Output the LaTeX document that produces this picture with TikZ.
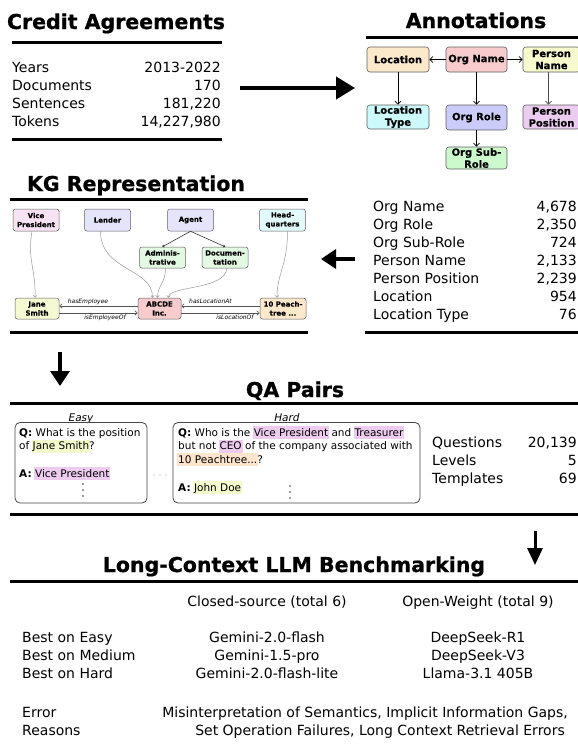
\documentclass[tikz,border=0pt]{standalone}
\usepackage{fontspec}
\setmainfont{DejaVu Sans}
\newfontfamily\headfont{DejaVu Sans Bold}[FakeBold=0.8]
\newfontfamily\boxfont{DejaVu Sans Bold}[FakeBold=0.4]
\usetikzlibrary{arrows.meta}
\definecolor{cLoc}{RGB}{252,233,204}
\definecolor{cOrg}{RGB}{248,204,204}
\definecolor{cPer}{RGB}{246,250,204}
\definecolor{cLocT}{RGB}{204,250,252}
\definecolor{cRole}{RGB}{204,204,250}
\definecolor{cPos}{RGB}{236,204,240}
\definecolor{cSub}{RGB}{204,250,204}
\definecolor{kVP}{RGB}{250,226,245}
\definecolor{kLav}{RGB}{228,228,250}
\definecolor{kCy}{RGB}{226,250,252}
\definecolor{kGr}{RGB}{226,250,226}
\definecolor{kYe}{RGB}{246,250,210}
\definecolor{hlPur}{RGB}{238,204,240}
\definecolor{hlYel}{RGB}{245,250,204}
\definecolor{hlPea}{RGB}{252,229,204}
\newsavebox\hlsave
\newcommand\hlt[2]{\sbox\hlsave{#2}\rlap{\kern-1pt\color{#1}\rule[-3pt]{\dimexpr\wd\hlsave+2pt\relax}{13pt}}\usebox\hlsave}
\begin{document}
\begin{tikzpicture}[x=1pt,y=-1pt,
  title/.style={font=\fontsize{20.5}{24}\selectfont\headfont, anchor=base, inner sep=0},
  stat/.style={font=\fontsize{14}{17}\selectfont, inner sep=0},
  statl/.style={stat, anchor=base west},
  statr/.style={stat, anchor=base east},
  statc/.style={stat, anchor=base},
  thickrule/.style={line width=3pt},
  abox/.style={draw=gray!75!black, rounded corners=3pt, line width=0.6pt, align=center,
    font=\fontsize{10}{12}\selectfont\boxfont, inner sep=0},
  kbox/.style={draw=gray!75!black, rounded corners=2.5pt, line width=0.5pt, align=center,
    font=\fontsize{7}{9}\selectfont\boxfont, inner sep=0, minimum width=46pt, minimum height=22pt},
  aarrow/.style={line width=0.7pt, -{Straight Barb[length=3pt,width=6pt]}},
  kcurve/.style={draw=gray!80, line width=0.5pt, -{Straight Barb[length=2pt,width=3.5pt]}},
  kedge/.style={draw=gray!65!black, line width=0.6pt, -{Straight Barb[length=2.5pt,width=4.5pt]}},
  kdot/.style={draw=black!80, line width=0.6pt, -{Circle[length=2.2pt]}},
  elabel/.style={font=\fontsize{6}{7}\selectfont\itshape, inner sep=0, anchor=base},
  qtext/.style={font=\fontsize{10.5}{13.5}\selectfont, anchor=base west, inner sep=0},
  qbox/.style={draw=gray!55!black, rounded corners=5pt, line width=0.8pt}
]
\useasboundingbox (0,0) rectangle (578,744);
\fill[white] (0,0) rectangle (578,744);

% ---------------- Credit Agreements
\node[title] (tCredit) at (116,29) {Credit Agreements};
\draw[thickrule] (12,42) -- (222,42);
\node[statl] (c1l) at (12,72) {Years};       \node[statr] (c1r) at (221,72) {2013-2022};
\node[statl] (c2l) at (12,90) {Documents};   \node[statr] (c2r) at (221,90) {170};
\node[statl] (c3l) at (12,108) {Sentences};  \node[statr] (c3r) at (221,108) {181,220};
\node[statl] (c4l) at (12,126) {Tokens};     \node[statr] (c4r) at (221,126) {14,227,980};
\draw[thickrule] (12,139) -- (222,139);

% arrow right
\coordinate (ra1) at (240,88); \coordinate (ra2) at (355,88);
\draw[line width=4pt, -{Triangle[length=19pt,width=22pt]}] (ra1) -- (ra2);

% ---------------- Annotations
\node[title] (tAnn) at (476,28) {Annotations};
\draw[thickrule] (366,37) -- (578,37);
\node[abox, fill=cLoc, minimum width=62pt, minimum height=25pt] (loc) at (398,59.5) {Location};
\node[abox, fill=cOrg, minimum width=61pt, minimum height=25pt] (orgname) at (476.5,59.5) {Org Name};
\node[abox, fill=cPer, minimum width=57pt, minimum height=25pt] (pername) at (551.5,59.5) {Person\\Name};
\node[abox, fill=cLocT, minimum width=62pt, minimum height=24pt] (loctype) at (398,117) {Location\\Type};
\node[abox, fill=cRole, minimum width=61pt, minimum height=25pt] (orgrole) at (476.5,117.5) {Org Role};
\node[abox, fill=cPos, minimum width=57pt, minimum height=24pt] (perpos) at (551.5,117) {Person\\Position};
\node[abox, fill=cSub, minimum width=61pt, minimum height=22pt] (subrole) at (476.5,158) {Org Sub-\\Role};
\draw[aarrow] (orgname.west) -- (loc.east);
\draw[aarrow] (orgname.east) -- (pername.west);
\draw[aarrow] (loc.south) -- (loctype.north);
\draw[aarrow] (orgname.south) -- (orgrole.north);
\draw[aarrow] (orgrole.south) -- (subrole.north);
\draw[aarrow, draw=gray!60!black] ([xshift=-3pt]pername.south) -- ([xshift=-3pt]perpos.north);

% stats
\node[statl] (a1l) at (373,211) {Org Name};        \node[statr] (a1r) at (577,211) {4,678};
\node[statl] (a2l) at (373,229) {Org Role};        \node[statr] (a2r) at (577,229) {2,350};
\node[statl] (a3l) at (373,247) {Org Sub-Role};    \node[statr] (a3r) at (577,247) {724};
\node[statl] (a4l) at (373,265) {Person Name};     \node[statr] (a4r) at (577,265) {2,133};
\node[statl] (a5l) at (373,283) {Person Position}; \node[statr] (a5r) at (577,283) {2,239};
\node[statl] (a6l) at (373,301) {Location};        \node[statr] (a6r) at (577,301) {954};
\node[statl] (a7l) at (373,319) {Location Type};   \node[statr] (a7r) at (577,319) {76};
\draw[thickrule] (365,332) -- (578,332);

% arrow left
\coordinate (la1) at (355,259); \coordinate (la2) at (321,259);
\draw[line width=3.5pt, -{Triangle[length=15pt,width=19pt]}] (la1) -- (la2);

% ---------------- KG Representation
\node[title] (tKG) at (136,191) {KG Representation};
\draw[thickrule] (10,199) -- (308,199);
\node[kbox, fill=kVP] (vp) at (36,220) {Vice\\President};
\node[kbox, fill=kLav] (lender) at (107.5,220) {Lender};
\node[kbox, fill=kLav] (agent) at (190.5,220) {Agent};
\node[kbox, fill=kCy] (hq) at (282.5,220) {Head-\\quarters};
\node[kbox, fill=kGr, minimum height=21pt] (admin) at (162.5,257.5) {Adminis-\\trative};
\node[kbox, fill=kGr, minimum height=21pt] (doc) at (225,257.5) {Documen-\\tation};
\node[kbox, fill=kYe, minimum width=44pt, minimum height=21pt] (jane) at (37,308.5) {Jane\\Smith};
\node[kbox, fill=cOrg, minimum width=43pt, minimum height=21pt] (abcde) at (159.5,308.5) {ABCDE\\Inc.};
\node[kbox, fill=cLoc, minimum width=46pt, minimum height=21pt] (peach) at (283,308.5) {10 Peach-\\tree ...};
\draw[kdot] (agent.south) -- (admin.north);
\draw[kdot] (agent.south) -- (doc.north);
\draw[kcurve] ([xshift=-4pt]vp.south) .. controls +(-5,28) and +(1,-28) .. ([xshift=-2pt]jane.north);
\draw[kcurve] ([xshift=-7pt]lender.south) .. controls +(0,40) and +(0,-30) .. ([xshift=-7pt]abcde.north);
\draw[kcurve] ([xshift=3pt]admin.south) .. controls +(0,15) and +(0,-12) .. ([xshift=-2pt]abcde.north);
\draw[kcurve] ([xshift=2pt]doc.south) .. controls +(-2,22) and +(0,-12) .. ([xshift=9pt]abcde.north);
\draw[kcurve] ([xshift=5pt]hq.south) .. controls +(0,35) and +(0,-25) .. ([xshift=-6pt]peach.north);
\draw[kedge] ([yshift=2.5pt]abcde.west) -- ([yshift=2.5pt]jane.east);
\draw[kedge] ([yshift=-4.5pt]jane.east) -- ([yshift=-4.5pt]abcde.west);
\draw[kedge] ([yshift=2.5pt]peach.west) -- ([yshift=2.5pt]abcde.east);
\draw[kedge] ([yshift=-4.5pt]abcde.east) -- ([yshift=-4.5pt]peach.west);
\node[elabel] (lHasEmp) at (88,303.5) {hasEmployee};
\node[elabel] (lIsEmp) at (105,319) {isEmployeeOf};
\node[elabel] (lHasLoc) at (210.5,303.5) {hasLocationAt};
\node[elabel] (lIsLoc) at (235,319) {isLocationOf};
\draw[thickrule] (10,332) -- (308,332);

% arrow down
\coordinate (da1) at (60,352); \coordinate (da2) at (60,386);
\draw[line width=3.5pt, -{Triangle[length=15pt,width=19pt]}] (da1) -- (da2);

% ---------------- QA Pairs
\node[title] (tQA) at (295,397) {QA Pairs};
\draw[thickrule] (10,403) -- (578,403);
\node[font=\fontsize{10.5}{12}\selectfont\itshape, anchor=base, inner sep=0] (tEasy) at (81,421) {Easy};
\node[font=\fontsize{10.5}{12}\selectfont\itshape, anchor=base, inner sep=0] (tHard) at (287,421) {Hard};
\draw[qbox] (15,422.5) rectangle (147,503);
\draw[qbox] (173,422.5) rectangle (420,503);
\node[qtext] (e1) at (19,436) {\textbf{Q:} What is the position};
\node[qtext] (e2) at (19,449.5) {of \hlt{hlYel}{Jane Smith}?};
\node[qtext] (e3) at (19,477) {\textbf{A:} \hlt{hlPur}{Vice President}};
\node[qtext] (h1) at (178,436) {\textbf{Q:} Who is the \hlt{hlPur}{Vice President} and \hlt{hlPur}{Treasurer}};
\node[qtext] (h2) at (178,449.5) {but not \hlt{hlPur}{CEO} of the company associated with};
\node[qtext] (h3) at (178,463) {\hlt{hlPea}{10 Peachtree...}?};
\node[qtext] (h4) at (178,491) {\textbf{A:} \hlt{hlYel}{John Doe}};
\foreach \yy in {484,490,496} {\fill[gray!40!black] (83,\yy) circle (0.9pt);}
\foreach \yy in {486,492,498} {\fill[gray!40!black] (290,\yy) circle (0.9pt);}
\foreach \xx in {154,160,166} {\fill[gray!60] (\xx,475) circle (0.7pt);}
\node[statl] (q1l) at (432,447) {Questions};  \node[statr] (q1r) at (577,447) {20,139};
\node[statl] (q2l) at (432,465) {Levels};     \node[statr] (q2r) at (577,465) {5};
\node[statl] (q3l) at (432,483) {Templates};  \node[statr] (q3r) at (577,483) {69};
\draw[thickrule] (10,514) -- (578,514);

% arrow down right
\coordinate (db1) at (535,531); \coordinate (db2) at (535,565);
\draw[line width=3pt, -{Triangle[length=17pt,width=15pt]}] (db1) -- (db2);

% ---------------- Long-Context LLM Benchmarking
\node[title] (tLC) at (294,572) {Long-Context LLM Benchmarking};
\draw[thickrule] (10,581) -- (578,581);
\node[statc] (hClosed) at (267,606) {Closed-source (total 6)};
\node[statc] (hOpen) at (478,606) {Open-Weight (total 9)};
\node[statl] (b1) at (22,642) {Best on Easy};
\node[statl] (b2) at (22,660) {Best on Medium};
\node[statl] (b3) at (22,678) {Best on Hard};
\node[statc] (g1) at (267,642) {Gemini-2.0-flash};
\node[statc] (g2) at (267,660) {Gemini-1.5-pro};
\node[statc] (g3) at (267,678) {Gemini-2.0-flash-lite};
\node[statc] (o1) at (478,642) {DeepSeek-R1};
\node[statc] (o2) at (478,660) {DeepSeek-V3};
\node[statc] (o3) at (478,678) {Llama-3.1 405B};
\node[statl] (er1) at (22,717) {Error};
\node[statl] (er2) at (22,735) {Reasons};
\node[statr] (er3) at (568,717) {Misinterpretation of Semantics, Implicit Information Gaps,};
\node[statr] (er4) at (565,735) {Set Operation Failures, Long Context Retrieval Errors};
\end{tikzpicture}
\end{document}
